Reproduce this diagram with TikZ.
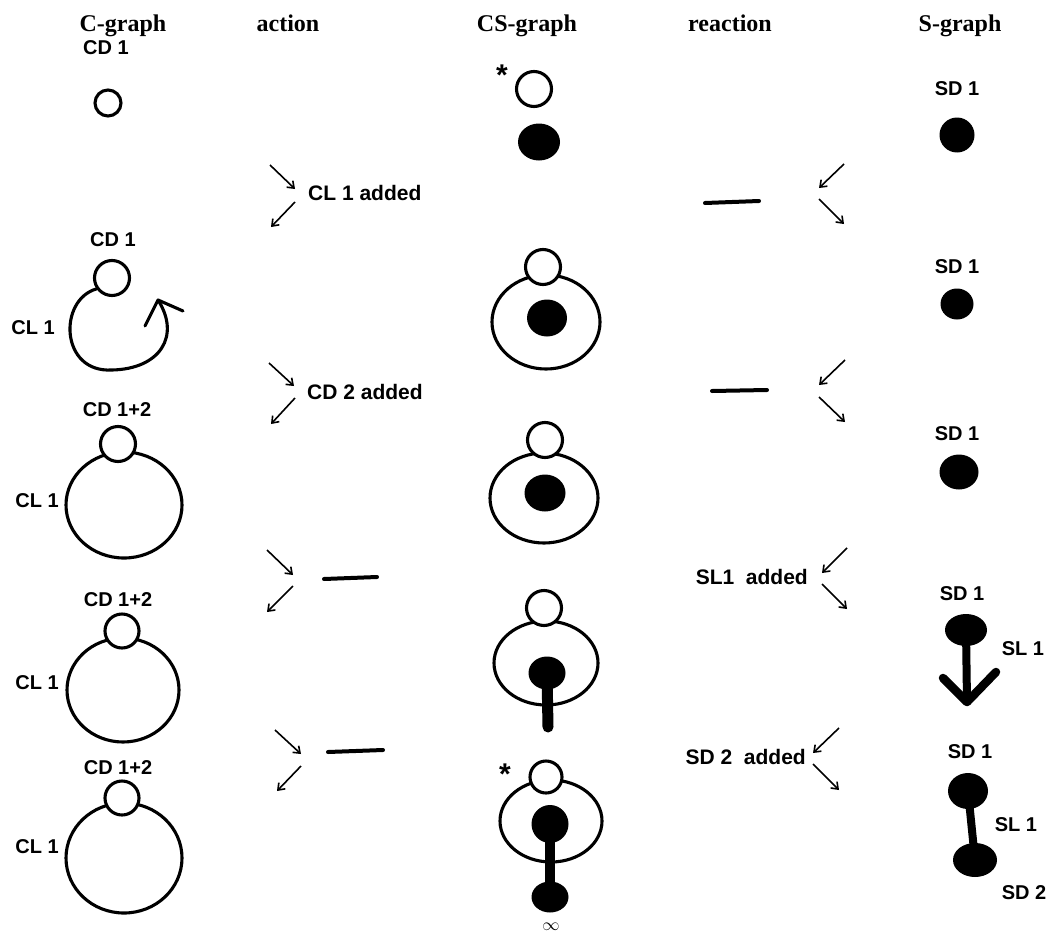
\documentclass[tikz,border=0pt]{standalone}
\usepackage{fontspec}
\setmainfont{Liberation Serif}
\setsansfont{Liberation Sans}
\usetikzlibrary{shapes.geometric,arrows.meta}
\begin{document}
\begin{tikzpicture}[x=1pt,y=-1pt,
  hdr/.style={font=\bfseries\fontsize{24}{28}\selectfont, inner sep=0pt, anchor=base},
  lbl/.style={font=\sffamily\bfseries\fontsize{20}{24}\selectfont, inner sep=0pt},
  act/.style={font=\sffamily\bfseries\fontsize{21}{25}\selectfont, inner sep=0pt},
  star/.style={font=\sffamily\bfseries\fontsize{30}{32}\selectfont, inner sep=0pt},
  ring/.style={circle, draw, line width=3.1pt, fill=white, inner sep=0pt},
  loopring/.style={ellipse, draw, line width=3.1pt, inner sep=0pt},
  blob/.style={ellipse, fill=black, inner sep=0pt},
  arr/.style={line width=1.6pt, -{Straight Barb[length=6pt,width=9pt]}},
  dashmark/.style={line width=4pt, line cap=round},
  stemline/.style={line cap=round, line join=round},
  curveline/.style={line width=3.1pt, line cap=round, line join=round}
]
\useasboundingbox (0,0) rectangle (1054,934);

% ---------- headers ----------
\node[hdr] (hC)  at (123,32) {C-graph};
\node[hdr] (hA)  at (288,32) {action};
\node[hdr] (hCS) at (527,32) {CS-graph};
\node[hdr] (hR)  at (730,32) {reaction};
\node[hdr] (hS)  at (960,32) {S-graph};

% ---------- C-graph ----------
% row 1
\node[lbl] (cd1a) at (106,48) {CD 1};
\node[ring, minimum size=26pt] (c1) at (108,103) {};
% row 2
\node[lbl] (cd1b) at (113,240) {CD 1};
\node[ring, minimum size=35pt] (c2) at (112,278) {};
\node[lbl] (cl1b) at (33,328) {CL 1};
\coordinate (c2tip) at (158,300);
\coordinate (c2armA) at (145,326);
\coordinate (c2armB) at (183,311);
\draw[curveline] (c2.215) .. controls (58,300) and (60,373) .. (112,370)
   .. controls (160,369) and (181,336) .. (c2tip);
\draw[curveline] (c2armA) -- (c2tip) -- (c2armB);
% row 3
\node[lbl] (cd12c) at (117,410) {CD 1+2};
\node[loopring, minimum width=116pt, minimum height=106pt] (l3) at (124,505) {};
\node[ring, minimum size=35pt] (c3) at (118,444) {};
\node[lbl] (cl1c) at (37,501) {CL 1};
% row 4
\node[lbl] (cd12d) at (118,600) {CD 1+2};
\node[loopring, minimum width=112pt, minimum height=104pt] (l4) at (123,690) {};
\node[ring, minimum size=34pt] (c4) at (122,631) {};
\node[lbl] (cl1d) at (37,683) {CL 1};
% row 5
\node[lbl] (cd12e) at (118,768) {CD 1+2};
\node[loopring, minimum width=116pt, minimum height=110pt] (l5) at (124,858) {};
\node[ring, minimum size=34pt] (c5) at (122,798) {};
\node[lbl] (cl1e) at (37,847) {CL 1};

% ---------- action ----------
\node[act, anchor=west] (actA) at (308,193) {CL 1 added};
\node[act, anchor=west] (actB) at (307,392) {CD 2 added};
\coordinate (aD1s) at (324,579); \coordinate (aD1e) at (377,577);
\coordinate (aD2s) at (328,752); \coordinate (aD2e) at (383,750);
\draw[dashmark] (aD1s) -- (aD1e);
\draw[dashmark] (aD2s) -- (aD2e);
\coordinate (a1s) at (270,165); \coordinate (a1e) at (295,189);
\coordinate (a2s) at (295,202); \coordinate (a2e) at (271,227);
\coordinate (a3s) at (269,363); \coordinate (a3e) at (294,386);
\coordinate (a4s) at (295,398); \coordinate (a4e) at (271,424);
\coordinate (a5s) at (267,550); \coordinate (a5e) at (293,575);
\coordinate (a6s) at (293,586); \coordinate (a6e) at (267,612);
\coordinate (a7s) at (275,730); \coordinate (a7e) at (301,754);
\coordinate (a8s) at (301,766); \coordinate (a8e) at (277,791);
\foreach \i in {1,...,8} { \draw[arr] (a\i s) -- (a\i e); }

% ---------- CS-graph ----------
% row 1
\node[star] (st1) at (502,75) {*};
\node[ring, minimum size=35pt] (cs1o) at (534,89) {};
\node[blob, minimum width=42pt, minimum height=37pt] (cs1f) at (539,142) {};
% row 2
\node[loopring, minimum width=108pt, minimum height=94pt] (csl2) at (546,322) {};
\node[ring, minimum size=35pt] (cs2o) at (543,267) {};
\node[blob, minimum width=40pt, minimum height=37pt] (cs2f) at (547,318) {};
% row 3
\node[loopring, minimum width=108pt, minimum height=90pt] (csl3) at (544,498) {};
\node[ring, minimum size=35pt] (cs3o) at (545,440) {};
\node[blob, minimum width=41pt, minimum height=37pt] (cs3f) at (545,493) {};
% row 4
\node[loopring, minimum width=104pt, minimum height=84pt] (csl4) at (546,663) {};
\node[ring, minimum size=35pt] (cs4o) at (544,608) {};
\node[blob, minimum width=37pt, minimum height=33pt] (cs4f) at (547,673) {};
\coordinate (cs4end) at (548,727);
\draw[stemline, line width=11pt] (cs4f.center) -- (cs4end);
% row 5
\node[star] (st5) at (505,774) {*};
\node[loopring, minimum width=102pt, minimum height=82pt] (csl5) at (551,821) {};
\node[ring, minimum size=32pt] (cs5o) at (546,777) {};
\node[blob, minimum width=37pt, minimum height=38pt] (cs5f) at (550,824) {};
\node[blob, minimum width=37pt, minimum height=31pt] (cs5g) at (550,897) {};
\draw[stemline, line width=10pt] (cs5f.center) -- (cs5g.center);
\node[inner sep=0pt, font=\fontsize{17}{18}\selectfont] (inf) at (551,927) {$\infty$};

% ---------- reaction ----------
\node[act, anchor=east] (reA) at (808,577) {SL1~\ added};
\node[act, anchor=east] (reB) at (806,757) {SD 2~\ added};
\coordinate (rD1s) at (705,203); \coordinate (rD1e) at (759,201);
\coordinate (rD2s) at (712,391); \coordinate (rD2e) at (767,390);
\draw[dashmark] (rD1s) -- (rD1e);
\draw[dashmark] (rD2s) -- (rD2e);
\coordinate (r1s) at (844,164); \coordinate (r1e) at (819,188);
\coordinate (r2s) at (819,199); \coordinate (r2e) at (844,224);
\coordinate (r3s) at (845,360); \coordinate (r3e) at (819,385);
\coordinate (r4s) at (819,397); \coordinate (r4e) at (845,422);
\coordinate (r5s) at (847,548); \coordinate (r5e) at (822,573);
\coordinate (r6s) at (822,584); \coordinate (r6e) at (847,609);
\coordinate (r7s) at (839,728); \coordinate (r7e) at (813,753);
\coordinate (r8s) at (813,764); \coordinate (r8e) at (839,790);
\foreach \i in {1,...,8} { \draw[arr] (r\i s) -- (r\i e); }

% ---------- S-graph ----------
% row 1
\node[lbl] (sd1a) at (957,89) {SD 1};
\node[blob, minimum width=35pt, minimum height=35pt] (s1) at (957,135) {};
% row 2
\node[lbl] (sd1b) at (957,267) {SD 1};
\node[blob, minimum width=33pt, minimum height=31pt] (s2) at (957,304) {};
% row 3
\node[lbl] (sd1c) at (957,434) {SD 1};
\node[blob, minimum width=39pt, minimum height=35pt] (s3) at (959,472) {};
% row 4
\node[lbl] (sd1d) at (962,594) {SD 1};
\node[blob, minimum width=42pt, minimum height=32pt] (s4) at (966,630) {};
\coordinate (s4tip) at (967,702);
\coordinate (s4armA) at (943,678);
\coordinate (s4armB) at (996,672);
\draw[stemline, line width=8pt] (s4.center) -- (s4tip);
\draw[stemline, line width=8.5pt] (s4armA) -- (s4tip) -- (s4armB);
\node[lbl] (sl1d) at (1023,649) {SL 1};
% row 5
\node[lbl] (sd1e) at (970,752) {SD 1};
\node[blob, minimum width=40pt, minimum height=36pt] (s5a) at (968,791) {};
\node[blob, minimum width=44pt, minimum height=34pt] (s5b) at (975,860) {};
\draw[stemline, line width=8pt] (s5a.center) -- (s5b.center);
\node[lbl] (sl1e) at (1016,825) {SL 1};
\node[lbl] (sd2e) at (1024,893) {SD 2};

\end{tikzpicture}
\end{document}
